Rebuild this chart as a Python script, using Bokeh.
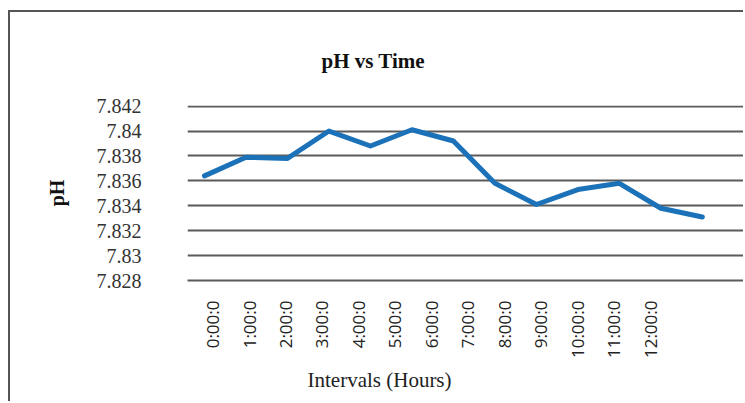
from bokeh.plotting import figure
from bokeh.models import Range1d, FixedTicker, Title
from bokeh.embed import file_html
from bokeh.resources import INLINE
import math

# ---- data ----
intervals = ["0:00:0", "1:00:0", "2:00:0", "3:00:0", "4:00:0", "5:00:0", "6:00:0",
             "7:00:0", "8:00:0", "9:00:0", "10:00:0", "11:00:0", "12:00:0"]
ph_values = [7.8364, 7.8379, 7.8378, 7.8400, 7.8388, 7.8401, 7.8392,
             7.8358, 7.8341, 7.8353, 7.8358, 7.8338, 7.8331]
y_ticks = [7.828, 7.830, 7.832, 7.834, 7.836, 7.838, 7.840, 7.842]
y_tick_labels = ["7.828", "7.83", "7.832", "7.834", "7.836", "7.838", "7.84", "7.842"]

idx = list(range(len(intervals)))

p = figure(width=735, height=391, output_backend="svg", toolbar_location=None,
           x_range=Range1d(-0.685, 14.603), y_range=Range1d(7.828, 7.84205),
           min_border_left=177, min_border_right=0, min_border_top=93,
           min_border_bottom=123)
p.styles = {"margin-left": "8px", "margin-top": "10px",
            "border-left": "2px solid #555555", "border-top": "2px solid #555555"}
p.outline_line_color = None
p.background_fill_color = "white"
p.border_fill_color = "white"

# title
p.title.text = "pH vs Time"
p.title.align = "left"
p.title.offset = 134
p.title.text_font = "Liberation Serif"
p.title.text_font_size = "21px"
p.title.text_font_style = "bold"
p.title.text_color = "#111111"
p.title.standoff = 66

# secondary horizontal scale used by the series line
p.extra_x_ranges = {"line": Range1d(-0.41, 13.04)}
p.line(x=idx, y=ph_values, x_range_name="line", line_color="#1b72b8",
       line_width=5, line_join="round", line_cap="round")

# y axis
p.yaxis.ticker = FixedTicker(ticks=y_ticks)
p.yaxis.major_label_overrides = {t: l for t, l in zip(y_ticks, y_tick_labels)}
p.yaxis.axis_line_color = None
p.yaxis.major_tick_line_color = None
p.yaxis.minor_tick_line_color = None
p.yaxis.major_label_standoff = 40
p.yaxis.major_label_text_font = "Liberation Serif"
p.yaxis.major_label_text_font_size = "20px"
p.yaxis.major_label_text_color = "#333333"
p.yaxis.axis_label = "pH"
p.yaxis.axis_label_text_font = "Liberation Serif"
p.yaxis.axis_label_text_font_size = "20px"
p.yaxis.axis_label_text_font_style = "bold"
p.yaxis.axis_label_text_color = "#111111"
p.yaxis.axis_label_standoff = 26

# x axis
p.xaxis.ticker = FixedTicker(ticks=idx)
p.xaxis.major_label_overrides = {i: s for i, s in zip(idx, intervals)}
p.xaxis.major_label_orientation = math.pi / 2
p.xaxis.axis_line_color = "#5a5a5a"
p.xaxis.axis_line_width = 2
p.xaxis.major_tick_line_color = None
p.xaxis.minor_tick_line_color = None
p.xaxis.major_label_standoff = 14
p.xaxis.major_label_text_font = "Open Sans"
p.xaxis.major_label_text_font_size = "17px"
p.xaxis.major_label_text_color = "#222222"

p.add_layout(Title(text="Intervals (Hours)", align="left", offset=120,
                   text_font="Liberation Serif", text_font_size="21px",
                   text_font_style="normal", text_color="#222222", standoff=8),
             "below")

# grid
p.xgrid.grid_line_color = None
p.ygrid.grid_line_color = "#5a5a5a"
p.ygrid.grid_line_width = 2

open("out.html", "w").write(file_html(p, INLINE))
